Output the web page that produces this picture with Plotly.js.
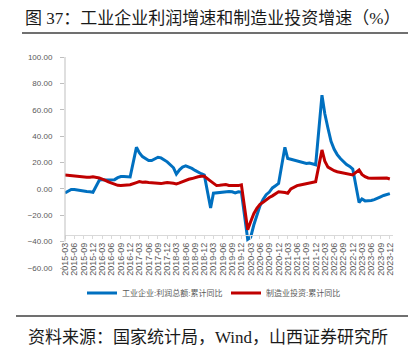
<!DOCTYPE html>
<html>
<head>
<meta charset="utf-8">
<script src="https://cdn.plot.ly/plotly-3.0.1.min.js"></script>
<style>html,body{margin:0;padding:0;background:#fff;}#chart{width:417px;height:357px;}</style>
</head>
<body>
<div id="chart"></div>
<script>
// ---- data ----
const months = [
  "2015-03","2015-04","2015-05","2015-06","2015-07","2015-08","2015-09","2015-10","2015-11","2015-12",
  "2016-02","2016-03","2016-04","2016-05","2016-06","2016-07","2016-08","2016-09","2016-10","2016-11","2016-12",
  "2017-02","2017-03","2017-04","2017-05","2017-06","2017-07","2017-08","2017-09","2017-10","2017-11","2017-12",
  "2018-02","2018-03","2018-04","2018-05","2018-06","2018-07","2018-08","2018-09","2018-10","2018-11","2018-12",
  "2019-02","2019-03","2019-04","2019-05","2019-06","2019-07","2019-08","2019-09","2019-10","2019-11","2019-12",
  "2020-02","2020-03","2020-04","2020-05","2020-06","2020-07","2020-08","2020-09","2020-10","2020-11","2020-12",
  "2021-02","2021-03","2021-04","2021-05","2021-06","2021-07","2021-08","2021-09","2021-10","2021-11","2021-12",
  "2022-02","2022-03","2022-04","2022-05","2022-06","2022-07","2022-08","2022-09","2022-10","2022-11","2022-12",
  "2023-02","2023-03","2023-04","2023-05","2023-06","2023-07","2023-08","2023-09","2023-10","2023-11","2023-12"
];
const profitName = "工业企业:利润总额:累计同比";
const profitYoY = [
  -3.0,-1.5,-0.5,-0.5,-1.0,-1.5,-1.7,-2.0,-2.2,-2.6,
  6.5,7.0,6.8,6.8,6.8,7.0,8.5,9.3,9.3,9.3,9.0,
  31.5,27.5,24.5,23.0,21.5,21.5,22.5,24.0,23.5,22.0,20.5,
  16.0,11.2,14.5,16.5,17.4,16.5,15.5,14.0,12.5,11.5,10.5,
  -14.5,-3.3,-3.0,-2.5,-2.3,-2.0,-2.0,-2.2,-3.0,-2.2,-2.5,
  -38.3,-36.7,-27.4,-19.3,-12.8,-8.1,-4.4,-2.4,0.7,2.4,4.1,
  31.5,23.0,22.5,21.8,21.0,20.2,19.5,19.2,19.6,18.8,18.3,
  71.0,57.0,46.0,36.0,30.0,26.0,23.0,20.5,18.5,17.0,15.0,
  -10.3,-7.6,-9.1,-9.0,-8.8,-8.2,-6.8,-6.0,-5.0,-4.3,-3.6
];
const investName = "制造业投资:累计同比";
const investYoY = [
  10.5,10.2,10.0,9.8,9.5,9.2,9.0,8.8,8.9,9.2,
  8.3,7.6,6.5,5.3,4.5,3.5,2.7,2.6,2.8,3.0,3.2,
  4.8,5.5,5.0,5.2,4.8,4.5,4.2,3.9,4.0,4.5,4.8,
  4.3,3.8,4.5,5.5,6.5,7.3,7.8,8.7,9.2,9.6,9.5,
  5.9,4.6,2.5,2.7,3.0,3.3,2.6,2.5,2.6,2.5,3.1,
  -31.0,-25.0,-18.8,-14.8,-11.7,-10.2,-8.1,-6.5,-5.3,-3.5,-2.2,
  -2.8,-3.3,0.0,1.5,2.5,3.0,3.5,3.8,4.2,4.8,5.5,
  29.5,21.0,16.5,15.0,13.8,13.0,12.4,12.0,11.5,11.0,10.6,
  14.4,11.0,9.3,8.3,8.1,8.1,8.1,8.3,8.6,8.2,7.5
];
const tickLabels = [
  "2015-03","2015-06","2015-09","2015-12","2016-03","2016-06","2016-09","2016-12",
  "2017-03","2017-06","2017-09","2017-12","2018-03","2018-06","2018-09","2018-12",
  "2019-03","2019-06","2019-09","2019-12","2020-03","2020-06","2020-09","2020-12",
  "2021-03","2021-06","2021-09","2021-12","2022-03","2022-06","2022-09","2022-12",
  "2023-03","2023-06","2023-09","2023-12"
];
const yTicks = [-60,-40,-20,0,20,40,60,80,100];
const titleText = "图 37：工业企业利润增速和制造业投资增速（%）";
const sourceText = "资料来源：国家统计局，Wind，山西证券研究所";

// ---- chart ----
const W = 417, H = 357;
const L = 65, R = 24, T = 57, B = 89;
const pw = W - L - R, ph = H - T - B;
const px = v => (v - L) / pw;        // pixel x -> paper x
const py = v => (H - B - v) / ph;    // pixel y -> paper y
const yMin = -60, yMax = 100, xCross = -35;

const x = months.map(m => m + "-01");
const labelFont = {family: "Liberation Sans, Noto Sans CJK SC, sans-serif", size: 8, color: "#595959"};

const traces = [
  {x: x, y: profitYoY, name: profitName, type: "scatter", mode: "lines",
   line: {color: "#0070C0", width: 3}, legend: "legend"},
  {x: x, y: investYoY, name: investName, type: "scatter", mode: "lines",
   line: {color: "#C00000", width: 3}, legend: "legend2"}
];

const legendFont = {family: "Liberation Sans, Noto Sans CJK SC, sans-serif", size: 8, color: "#595959"};
const layout = {
  width: W, height: H,
  margin: {l: L, r: R, t: T, b: B, pad: 0},
  paper_bgcolor: "#ffffff", plot_bgcolor: "#ffffff",
  showlegend: true,
  legend: {x: px(82), y: py(293), xanchor: "left", yanchor: "middle", orientation: "h",
           font: legendFont, bgcolor: "rgba(0,0,0,0)", borderwidth: 0},
  legend2: {x: px(226), y: py(293), xanchor: "left", yanchor: "middle", orientation: "h",
           font: legendFont, bgcolor: "rgba(0,0,0,0)", borderwidth: 0},
  title: {text: titleText, x: 25 / W, xanchor: "left", xref: "container",
          y: 1 - 18 / H, yanchor: "middle", yref: "container",
          font: {family: "Liberation Serif, Noto Sans CJK SC, serif", size: 17, color: "#1a1a1a"}},
  xaxis: {
    type: "date",
    range: ["2015-03-01", "2024-01-01"],
    tickmode: "array",
    tickvals: tickLabels.map(t => t + "-01"),
    ticktext: tickLabels,
    tickangle: -90,
    tickfont: {family: "Liberation Sans, sans-serif", size: 9, color: "#595959"},
    ticks: "outside", ticklen: 3, tickcolor: "#d9d9d9",
    showline: true, linecolor: "#d9d9d9", linewidth: 1,
    showgrid: false, zeroline: false,
    anchor: "free", position: (xCross - yMin) / (yMax - yMin)
  },
  yaxis: {
    range: [yMin, yMax],
    tickmode: "array", tickvals: yTicks,
    tickformat: ".2f",
    tickfont: labelFont,
    ticks: "outside", ticklen: 4, tickcolor: "#bfbfbf",
    ticklabelstandoff: 6,
    showline: false, showgrid: false, zeroline: false
  },
  shapes: [
    {type: "line", xref: "paper", yref: "y", x0: 0, x1: 0, y0: -40, y1: yMax,
     line: {color: "#bfbfbf", width: 1}},
    {type: "line", xref: "paper", yref: "paper", x0: px(22), x1: px(408), y0: py(33), y1: py(33),
     line: {color: "#404040", width: 1.5}},
    {type: "line", xref: "paper", yref: "paper", x0: px(16), x1: px(408), y0: py(316), y1: py(316),
     line: {color: "#404040", width: 1.5}}
  ],
  annotations: [
    {text: sourceText, xref: "paper", yref: "paper", x: px(26), y: py(337),
     xanchor: "left", yanchor: "middle", showarrow: false,
     font: {family: "Liberation Serif, Noto Sans CJK SC, serif", size: 17, color: "#1a1a1a"}}
  ]
};

Plotly.newPlot("chart", traces, layout, {displayModeBar: false, staticPlot: true});
</script>
</body>
</html>
